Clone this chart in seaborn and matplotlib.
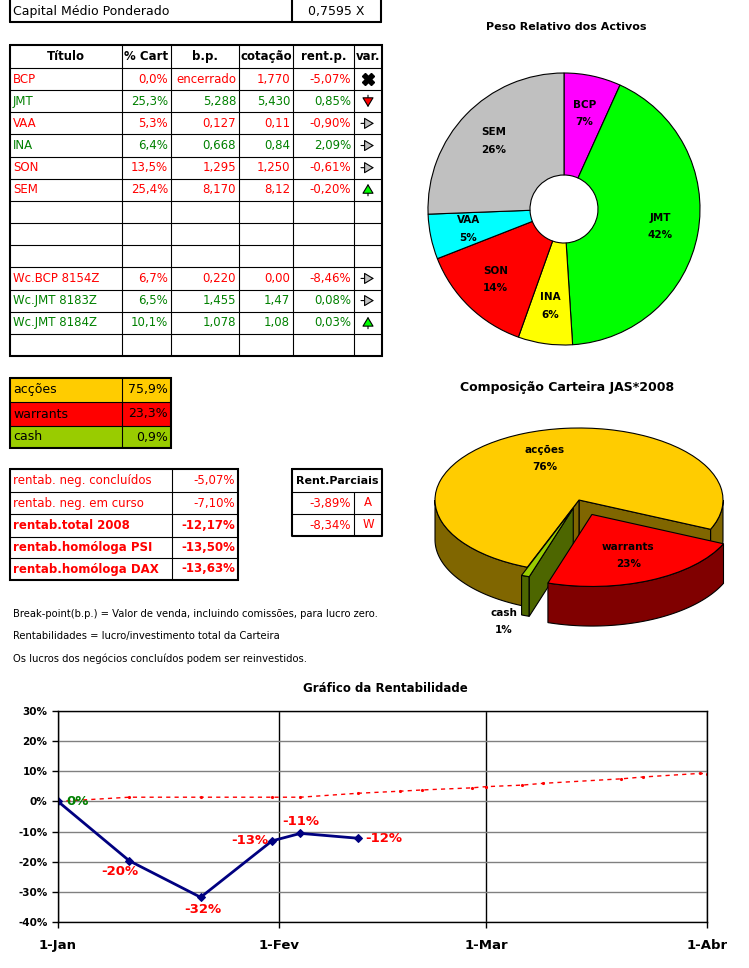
import numpy as np
import pandas as pd
import matplotlib
matplotlib.use("Agg")
import matplotlib.pyplot as plt
import seaborn as sns
from matplotlib.patches import Polygon

sns.set_theme(style="white")
plt.rcParams['font.family'] = ['DejaVu Sans']
plt.rcParams.update({"text.color": "black", "axes.labelcolor": "black",
                     "xtick.color": "black", "ytick.color": "black"})

W, H = 749, 968

# ---- dados ----
capital_medio = "0,7595 X"

titulos = ["BCP", "JMT", "VAA", "INA", "SON", "SEM", "", "", "",
           "Wc.BCP 8154Z", "Wc.JMT 8183Z", "Wc.JMT 8184Z", ""]
pct_cart = ["0,0%", "25,3%", "5,3%", "6,4%", "13,5%", "25,4%", "", "", "",
            "6,7%", "6,5%", "10,1%", ""]
break_point = ["encerrado", "5,288", "0,127", "0,668", "1,295", "8,170", "", "", "",
               "0,220", "1,455", "1,078", ""]
cotacao = ["1,770", "5,430", "0,11", "0,84", "1,250", "8,12", "", "", "",
           "0,00", "1,47", "1,08", ""]
rent_p = [-5.07, 0.85, -0.90, 2.09, -0.61, -0.20, None, None, None,
          -8.46, 0.08, 0.03, None]
variacao = ["x", "down", "right", "right", "right", "up", "", "", "",
            "right", "right", "up", ""]
cabecalho = ["Título", "% Cart", "b.p.", "cotação", "rent.p.", "var."]

activos = ["BCP", "JMT", "INA", "SON", "VAA", "SEM"]
peso_activos = [6.7, 41.9, 6.4, 13.5, 5.3, 25.4]
cores_activos = ["#FF00FF", "#00FF00", "#FFFF00", "#FF0000", "#00FFFF", "#C0C0C0"]

classes = ["acções", "warrants", "cash"]
peso_classes = [75.9, 23.3, 0.9]
cores_classes = ["#FFCC00", "#FF0000", "#99CC00"]
cores_lado = ["#806600", "#800000", "#4D6600"]

rentab_nomes = ["rentab. neg. concluídos", "rentab. neg. em curso", "rentab.total 2008",
                "rentab.homóloga PSI", "rentab.homóloga DAX"]
rentab_valores = [-5.07, -7.10, -12.17, -13.50, -13.63]
parciais = [-3.89, -8.34]
parciais_tipo = ["A", "W"]

notas = ["Break-point(b.p.) = Valor de venda, incluindo comissões, para lucro zero.",
         "Rentabilidades = lucro/investimento total da Carteira",
         "Os lucros dos negócios concluídos podem ser reinvestidos."]

datas_carteira = ["2008-01-01", "2008-01-11", "2008-01-21", "2008-01-31", "2008-02-04", "2008-02-12"]
rent_carteira = [0.0, -19.7, -31.8, -13.1, -10.6, -12.2]
datas_ref = ["2008-01-01", "2008-01-11", "2008-01-21", "2008-01-31", "2008-02-04", "2008-02-12",
             "2008-02-18", "2008-02-21", "2008-02-28", "2008-03-01", "2008-03-06", "2008-03-09",
             "2008-03-20", "2008-03-23", "2008-03-31", "2008-04-01"]
rent_ref = [0.0, 1.4, 1.4, 1.4, 1.4, 2.7, 3.4, 3.8, 4.5, 4.9, 5.4, 6.0, 7.5, 8.1, 9.3, 9.2]
meses = ["2008-01-01", "2008-02-01", "2008-03-01", "2008-04-01"]
meses_txt = ["1-Jan", "1-Fev", "1-Mar", "1-Abr"]

RED = "#FF0000"
GREEN = "#008000"


def pt(v, d=2):
    return f"{v:.{d}f}%".replace(".", ",")


fig = plt.figure(figsize=(W / 100, H / 100), dpi=100)
bg = fig.add_axes([0, 0, 1, 1])
bg.set_xlim(0, W)
bg.set_ylim(H, 0)
bg.axis("off")


def px_axes(x0, y0, x1, y1):
    return fig.add_axes([x0 / W, 1 - y1 / H, (x1 - x0) / W, (y1 - y0) / H])


def grid(xs, ys, thick=1.5, thin=0.8):
    for y in ys[1:-1]:
        bg.plot([xs[0], xs[-1]], [y, y], color="black", lw=thin)
    for x in xs[1:-1]:
        bg.plot([x, x], [ys[0], ys[-1]], color="black", lw=thin)
    bg.plot([xs[0], xs[-1], xs[-1], xs[0], xs[0]], [ys[0], ys[0], ys[-1], ys[-1], ys[0]],
            color="black", lw=thick, solid_joinstyle="miter")


# capital medio
bg.plot([10, 10], [0, 22], color="black", lw=1.5)
bg.plot([10, 381], [22, 22], color="black", lw=1.5)
bg.plot([292, 292], [0, 22], color="black", lw=1.5)
bg.plot([381, 381], [0, 22], color="black", lw=1.5)
bg.text(13, 11, "Capital Médio Ponderado", fontsize=9, va="center")
bg.text(336, 11, capital_medio, fontsize=9, va="center", ha="center")

# tabela principal
cx = [10, 122, 171, 239, 293, 354, 382]
ry = [45] + [68 + 22.15 * i for i in range(len(titulos) + 1)]
grid(cx, ry)
for j, h in enumerate(cabecalho):
    bg.text((cx[j] + cx[j + 1]) / 2, (ry[0] + ry[1]) / 2, h, fontsize=8.5,
            fontweight="bold", ha="center", va="center")
for i in range(len(titulos)):
    yc = (ry[i + 1] + ry[i + 2]) / 2
    if rent_p[i] is None:
        continue
    col = RED if rent_p[i] < 0 else GREEN
    bg.text(cx[0] + 3, yc, titulos[i], color=col, fontsize=8.5, va="center")
    for j, v in enumerate([pct_cart[i], break_point[i], cotacao[i], pt(rent_p[i])]):
        bg.text(cx[j + 2] - 3, yc, v, color=col, fontsize=8.5, va="center", ha="right")
    xm = (cx[5] + cx[6]) / 2
    if variacao[i] == "x":
        bg.plot(xm, yc, marker="X", ms=8, color="black", mec="black")
    else:
        ini, fim, fc = {"down": ((xm, yc - 6), (xm, yc + 6), "#FF0000"),
                        "up": ((xm, yc + 6), (xm, yc - 6), "#00FF00"),
                        "right": ((xm - 7, yc), (xm + 6, yc), "#C0C0C0")}[variacao[i]]
        bg.annotate("", xy=fim, xytext=ini,
                    arrowprops=dict(arrowstyle="-|>,head_width=0.3,head_length=0.5",
                                    fc=fc, ec="black", lw=0.8, shrinkA=0, shrinkB=0))

# composicao
kx = [10, 122, 171]
ky = [378, 402, 426, 448]
for i, c in enumerate(classes):
    bg.fill_between([kx[0], kx[-1]], ky[i], ky[i + 1], color=cores_classes[i], lw=0)
    yc = (ky[i] + ky[i + 1]) / 2
    bg.text(kx[0] + 3, yc, c, fontsize=9, va="center")
    bg.text(kx[2] - 3, yc, pt(peso_classes[i], 1), fontsize=9, va="center", ha="right")
grid(kx, ky)

# rentabilidades
tx = [10, 172, 238]
ty = [469, 492, 514, 537, 558, 580]
grid(tx, ty)
for i, (n, v) in enumerate(zip(rentab_nomes, rentab_valores)):
    yc = (ty[i] + ty[i + 1]) / 2
    fw = "normal" if i < 2 else "bold"
    bg.text(tx[0] + 3, yc, n, color=RED, fontsize=8.5, fontweight=fw, va="center")
    bg.text(tx[2] - 3, yc, pt(v), color=RED, fontsize=8.5, fontweight=fw, va="center", ha="right")

# rent. parciais
px_ = [292, 354, 382]
py_ = [469, 492, 514, 536]
for y in py_[1:-1]:
    bg.plot([px_[0], px_[-1]], [y, y], color="black", lw=0.8)
bg.plot([px_[1], px_[1]], [py_[1], py_[-1]], color="black", lw=0.8)
bg.plot([px_[0], px_[-1], px_[-1], px_[0], px_[0]], [py_[0], py_[0], py_[-1], py_[-1], py_[0]],
        color="black", lw=1.5)
bg.text((px_[0] + px_[2]) / 2, (py_[0] + py_[1]) / 2, "Rent.Parciais", fontsize=8,
        fontweight="bold", ha="center", va="center")
for i, (v, t) in enumerate(zip(parciais, parciais_tipo)):
    yc = (py_[i + 1] + py_[i + 2]) / 2
    bg.text(px_[1] - 3, yc, pt(v), color=RED, fontsize=8.5, va="center", ha="right")
    bg.text((px_[1] + px_[2]) / 2, yc, t, color=RED, fontsize=8.5, va="center", ha="center")

for k, n in enumerate(notas):
    bg.text(13, 614 + 22.5 * k, n, fontsize=7.2, va="center")

# ---- grafico peso relativo (donut) ----
bg.text(566, 27, "Peso Relativo dos Activos", fontsize=8, fontweight="bold", ha="center", va="center")
R = 136
ax1 = px_axes(564 - 150, 209 - 150, 564 + 150, 209 + 150)
tot = sum(peso_activos)
wedges, texts = ax1.pie(peso_activos, colors=cores_activos, startangle=90, counterclock=False,
                        labels=[f"{a}\n{round(v / tot * 100)}%" for a, v in zip(activos, peso_activos)],
                        labeldistance=0.72,
                        wedgeprops=dict(width=1 - 34 / R, edgecolor="black", linewidth=0.8),
                        textprops=dict(fontsize=7.5, fontweight="bold", linespacing=1.9))
for t in texts:
    t.set_ha("center")
    t.set_va("center")
ax1.set_xlim(-150 / R, 150 / R)
ax1.set_ylim(-150 / R, 150 / R)

# ---- composicao carteira (pie 3d) ----
bg.text(567, 387, "Composição Carteira JAS*2008", fontsize=9, fontweight="bold", ha="center", va="center")
ax2 = px_axes(420, 410, 740, 650)
ordem = [0, 2, 1]
tot2 = sum(peso_classes)
w2, _ = ax2.pie([peso_classes[i] for i in ordem], colors=[cores_classes[i] for i in ordem],
                startangle=-24, counterclock=True, explode=[0, 0.12, 0.22],
                wedgeprops=dict(edgecolor="black", linewidth=0.8))
ax2.set_aspect("auto")
ax2.set_xlim((420 - 579) / 144, (740 - 579) / 144)
ax2.set_ylim(-(650 - 500) / 72, (500 - 410) / 72)
d = 0.55
for k, (w, i) in enumerate(zip(w2, ordem)):
    base = 2 + 3 * k
    w.set_zorder(base + 1)
    c = np.array(w.center)
    t1, t2 = w.theta1, w.theta2
    lado = cores_lado[i]
    for a0, b0 in [(-180, 0), (180, 360), (540, 720)]:
        a, b = max(t1, a0), min(t2, b0)
        if b > a:
            th = np.radians(np.linspace(a, b, 60))
            top = np.column_stack([c[0] + np.cos(th), c[1] + np.sin(th)])
            bot = top - [0, d]
            ax2.add_patch(Polygon(np.vstack([top, bot[::-1]]), closed=True, fc=lado,
                                  ec="black", lw=0.8, zorder=base))
    for t, vis in [(t1, np.cos(np.radians(t1)) > 0), (t2, np.cos(np.radians(t2)) < 0)]:
        if vis:
            u = np.array([np.cos(np.radians(t)), np.sin(np.radians(t))])
            face = [c, c + u, c + u - [0, d], c - [0, d]]
            ax2.add_patch(Polygon(face, closed=True, fc=lado, ec="black", lw=0.8, zorder=base))
    mid = np.radians((t1 + t2) / 2)
    u = np.array([np.cos(mid), np.sin(mid)])
    if peso_classes[i] < 5:
        pos = c + 1.3 * u - [0.05, 0.35]
    else:
        pos = c + 0.62 * u
    ax2.text(pos[0], pos[1], f"{classes[i]}\n{round(peso_classes[i] / tot2 * 100)}%",
             fontsize=7.5, fontweight="bold", ha="center", va="center", linespacing=1.9, zorder=20)

# ---- grafico da rentabilidade ----
bg.text(385, 689, "Gráfico da Rentabilidade", fontsize=8.5, fontweight="bold", ha="center", va="center")
ax3 = px_axes(58, 711, 707, 922)
df_ref = pd.DataFrame({"data": pd.to_datetime(datas_ref), "rent": rent_ref})
df_cart = pd.DataFrame({"data": pd.to_datetime(datas_carteira), "rent": rent_carteira})
sns.lineplot(data=df_ref, x="data", y="rent", ax=ax3, color=RED, lw=1, linestyle=(0, (3, 3)),
             marker="o", ms=1.5, mec=RED)
sns.lineplot(data=df_cart, x="data", y="rent", ax=ax3, color="#000080", lw=2,
             marker="D", ms=4, mec="#000080")
offs = [(14, 0), (-7, -8), (1.5, -9), (-16, 0), (0, 8.5), (19, 0)]
for x, y, o in zip(df_cart["data"], rent_carteira, offs):
    ax3.annotate(f"{round(y)}%", (x, y), xytext=o, textcoords="offset points",
                 color=GREEN if round(y) == 0 else RED, fontsize=9.5, fontweight="bold",
                 ha="center", va="center")
ax3.set_ylim(-40, 30)
ax3.set_yticks(range(-40, 31, 10))
ax3.set_yticklabels([f"{v}%" for v in range(-40, 31, 10)], fontsize=7.5, fontweight="bold")
ax3.set_xlim(pd.Timestamp(meses[0]), pd.Timestamp(meses[-1]))
ax3.set_xticks(pd.to_datetime(meses))
ax3.set_xticklabels(meses_txt, fontsize=9.5, fontweight="bold")
ax3.set_xlabel("")
ax3.set_ylabel("")
ax3.yaxis.grid(True, color="#808080", lw=1)
ax3.xaxis.grid(True, color="black", lw=1)
ax3.set_axisbelow(True)
for s in ax3.spines.values():
    s.set_color("black")
    s.set_linewidth(1)
ax3.tick_params(axis="both", direction="out", length=4, width=1, color="black",
                left=True, bottom=True)
ax3.tick_params(axis="x", pad=8)

fig.savefig("out.png", dpi=100)
